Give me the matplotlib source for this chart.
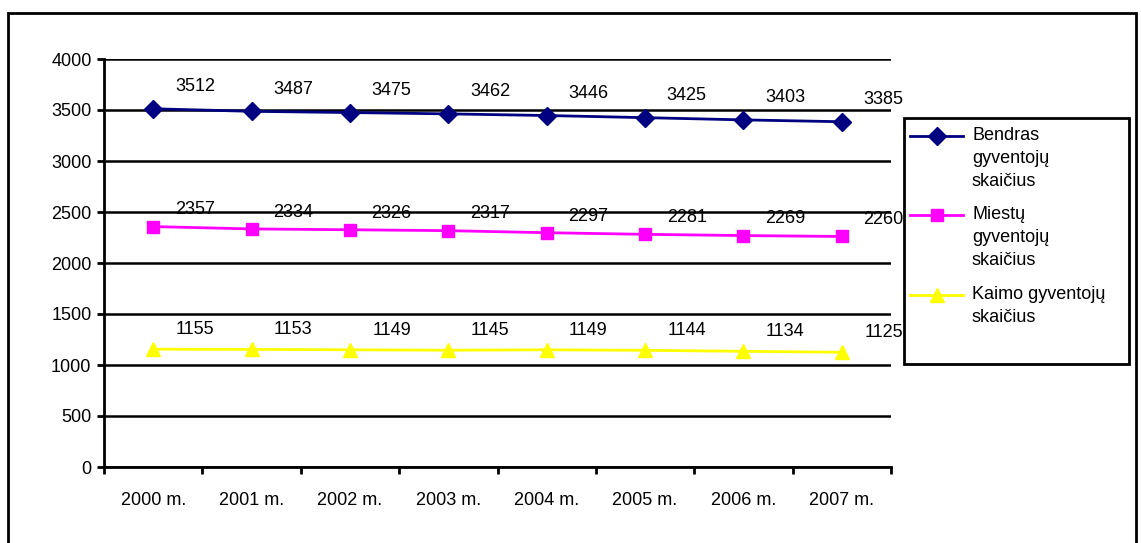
import matplotlib.pyplot as plt
from matplotlib.patches import Rectangle
from matplotlib.lines import Line2D

plt.rcParams['font.family'] = ['Liberation Sans', 'DejaVu Sans']

# data
years = ['2000 m.', '2001 m.', '2002 m.', '2003 m.', '2004 m.', '2005 m.', '2006 m.', '2007 m.']
bendras = [3512, 3487, 3475, 3462, 3446, 3425, 3403, 3385]
miestu = [2357, 2334, 2326, 2317, 2297, 2281, 2269, 2260]
kaimo = [1155, 1153, 1149, 1145, 1149, 1144, 1134, 1125]
names = ['Bendras\ngyventojų\nskaičius', 'Miestų\ngyventojų\nskaičius', 'Kaimo gyventojų\nskaičius']

W, H = 1141, 543
fig = plt.figure(figsize=(W / 100, H / 100), dpi=100)
ax = fig.add_axes([104 / W, 1 - 467 / H, 787 / W, 408 / H])

x = range(len(years))
series = [
    (bendras, '#000080', 'D', 9, 16),
    (miestu, '#FF00FF', 's', 8, 12),
    (kaimo, '#FFFF00', '^', 10, 14),
]
for vals, col, mk, ms, dy in series:
    ax.plot(x, vals, color=col, marker=mk, markersize=ms, lw=2,
            markeredgecolor=col, zorder=3, clip_on=False)
    for i, v in enumerate(vals):
        ax.annotate(str(v), (i, v), xytext=(30, dy), textcoords='offset points',
                    ha='center', va='center', fontsize=13, zorder=4)

ax.set_xlim(-0.5, len(years) - 0.5)
ax.set_ylim(0, 4000)
ax.set_yticks(range(0, 4001, 500))
ax.set_xticks(x)
ax.set_xticklabels(years, fontsize=13)
ax.set_xticks([i - 0.5 for i in range(len(years) + 1)], minor=True)
ax.tick_params(axis='x', which='major', length=0, pad=18)
ax.tick_params(axis='x', which='minor', length=5, width=2, direction='out')
ax.tick_params(axis='y', length=5, width=2, labelsize=13, pad=4)
ax.grid(axis='y', color='black', lw=1.8, zorder=1)
for side in ['top', 'right']:
    ax.spines[side].set_visible(False)
for side in ['left', 'bottom']:
    ax.spines[side].set_linewidth(2)

# legend drawn by hand so the marker sits on the first text line
fig.patches.append(Rectangle((904 / W, 1 - 364 / H), 225 / W, 246 / H,
                             transform=fig.transFigure, fill=False,
                             edgecolor='black', lw=2))
entry_y = [136, 215, 295]
for (vals, col, mk, ms, dy), name, yy in zip(series, names, entry_y):
    fy = 1 - yy / H
    fig.add_artist(Line2D([910 / W, 963 / W], [fy, fy], color=col, lw=2,
                          marker=None, transform=fig.transFigure))
    fig.add_artist(Line2D([937 / W], [fy], color=col, marker=mk, markersize=ms,
                          markeredgecolor=col, transform=fig.transFigure))
    fig.text(972 / W, fy + 9 / H, name, fontsize=13, ha='left', va='top',
             linespacing=1.45)

# outer chart frame
fig.patches.append(Rectangle((8 / W, -0.1), 1128 / W, 1.1 - 13 / H,
                             transform=fig.transFigure, fill=False,
                             edgecolor='black', lw=2))

fig.savefig('out.png', dpi=100)
